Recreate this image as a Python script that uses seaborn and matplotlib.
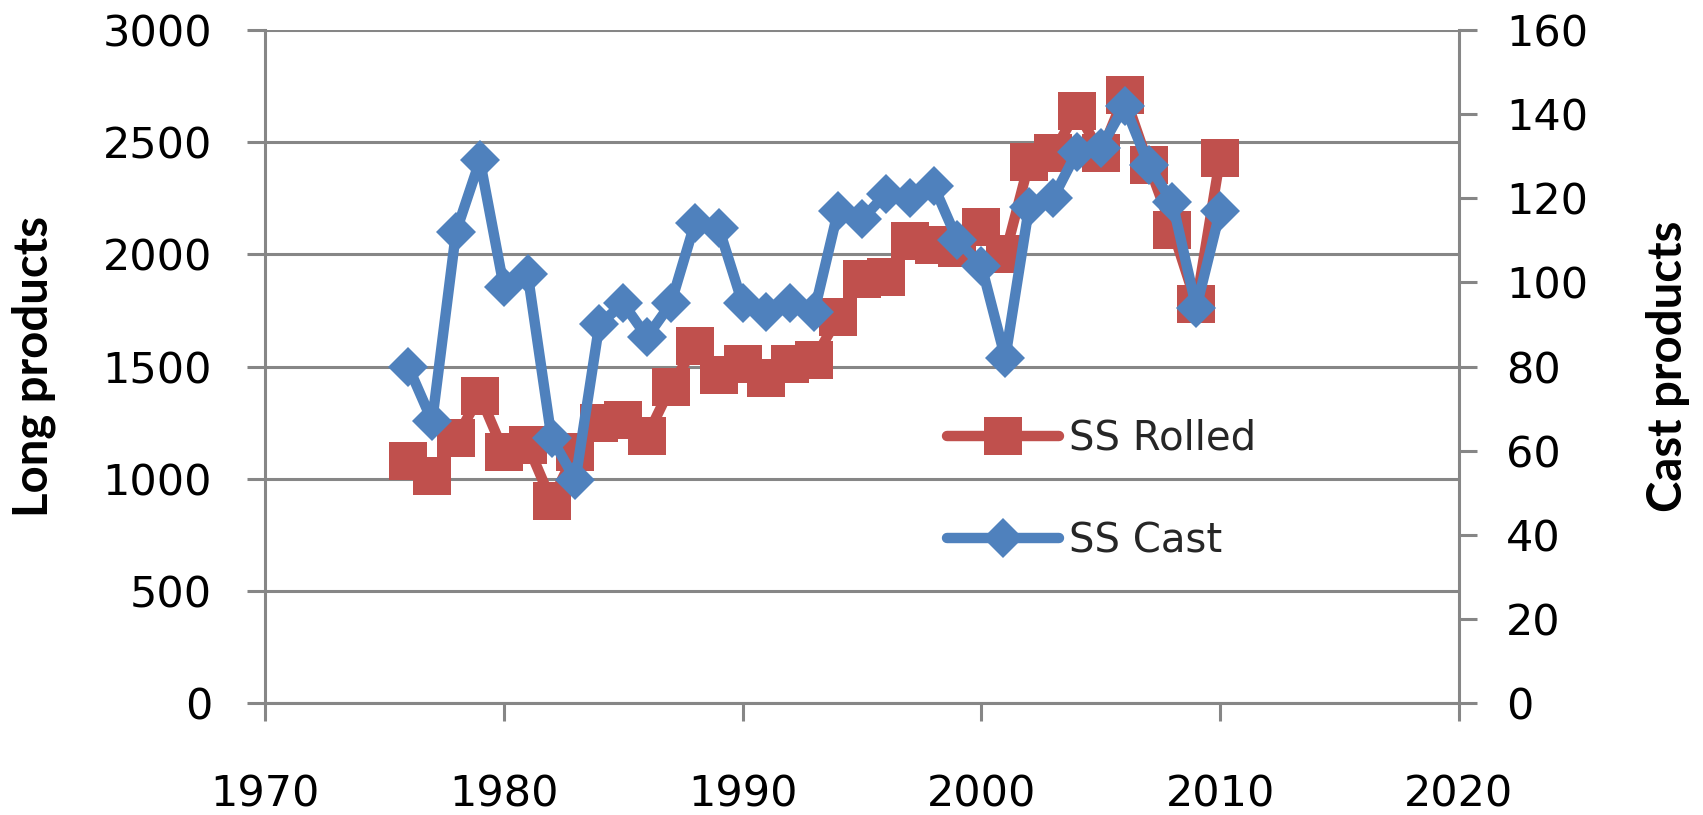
import matplotlib

matplotlib.use("Agg")
import matplotlib.pyplot as plt
import seaborn as sns

YEARS = list(range(1976, 2011))
SS_ROLLED = [1080, 1010, 1180, 1370, 1120, 1150, 900, 1120, 1250, 1260,
             1190, 1410, 1590, 1460, 1510, 1450, 1510, 1530, 1720, 1890,
             1900, 2060, 2040, 2030, 2120, 2000, 2410, 2450, 2640, 2450,
             2710, 2400, 2110, 1780, 2430]
SS_CAST = [80, 67, 112, 129, 99, 102, 63, 53, 90, 95,
           87, 95, 114, 113, 95, 93, 95, 93, 117, 115,
           121, 120, 123, 110, 104, 82, 118, 120, 131, 132,
           142, 128, 119, 94, 117]
X_TICKS = [1970, 1980, 1990, 2000, 2010, 2020]
LEFT_TICKS = [0, 500, 1000, 1500, 2000, 2500, 3000]
RIGHT_TICKS = [0, 20, 40, 60, 80, 100, 120, 140, 160]

RED = "#C0504D"
BLUE = "#4F81BD"
GRID = "#868686"


def main() -> None:
    sns.set_theme(style="white")
    plt.rcParams["font.family"] = ["DejaVu Sans"]

    fig, ax = plt.subplots(figsize=(17.03, 8.15), dpi=100)
    fig.subplots_adjust(left=0.1556, right=0.8567, bottom=0.1374, top=0.9632)

    sns.lineplot(x=YEARS, y=SS_ROLLED, ax=ax, color=RED, marker="s",
                 markersize=28, markeredgewidth=0, linewidth=7.5,
                 solid_joinstyle="round", label="SS Rolled", legend=False)
    ax2 = ax.twinx()
    sns.lineplot(x=YEARS, y=SS_CAST, ax=ax2, color=BLUE, marker="D",
                 markersize=20, markeredgewidth=0, linewidth=7.5,
                 solid_joinstyle="round", label="SS Cast", legend=False)

    ax.set_xlim(1970, 2020)
    ax.set_ylim(0, 3000)
    ax2.set_ylim(0, 160)
    ax.set_xticks(X_TICKS)
    ax.set_yticks(LEFT_TICKS)
    ax2.set_yticks(RIGHT_TICKS)

    ax.yaxis.grid(True, color=GRID, linewidth=2.2)
    ax.xaxis.grid(False)
    ax2.grid(False)

    for name, sp in ax.spines.items():
        sp.set_visible(name in ("left", "bottom"))
        sp.set_color(GRID)
        sp.set_linewidth(2.2)
    for name, sp in ax2.spines.items():
        sp.set_visible(name == "right")
        sp.set_color(GRID)
        sp.set_linewidth(2.2)

    ax.tick_params(axis="y", direction="out", length=13, width=2.2,
                   color=GRID, pad=25, labelsize=31, labelcolor="black")
    ax.tick_params(axis="x", direction="out", length=13, width=2.2,
                   color=GRID, pad=38, labelsize=31, labelcolor="black",
                   bottom=True)
    ax2.tick_params(axis="y", direction="out", length=13, width=2.2,
                    color=GRID, pad=21, labelsize=31, labelcolor="black",
                    right=True)

    label_font = dict(family=["Lato", "DejaVu Sans"], fontweight="bold",
                      fontsize=34, color="black", va="center")
    ax.set_ylabel("Long products", **label_font)
    ax.yaxis.set_label_coords(-0.194, 0.5)
    ax2.set_ylabel("Cast products", rotation=90, **label_font)
    ax2.yaxis.set_label_coords(1.175, 0.5)
    ax.set_xlabel("")

    h1, l1 = ax.get_legend_handles_labels()
    h2, l2 = ax2.get_legend_handles_labels()
    ax2.legend(h1 + h2, l1 + l2, loc="upper left",
               bbox_to_anchor=(0.556, 0.486), bbox_transform=fig.transFigure,
               frameon=False, fontsize=29, handlelength=2.78,
               handletextpad=0.25, labelspacing=1.55, borderpad=0,
               borderaxespad=0)

    fig.savefig("out.png", dpi=100)
    plt.close(fig)


if __name__ == "__main__":
    main()
